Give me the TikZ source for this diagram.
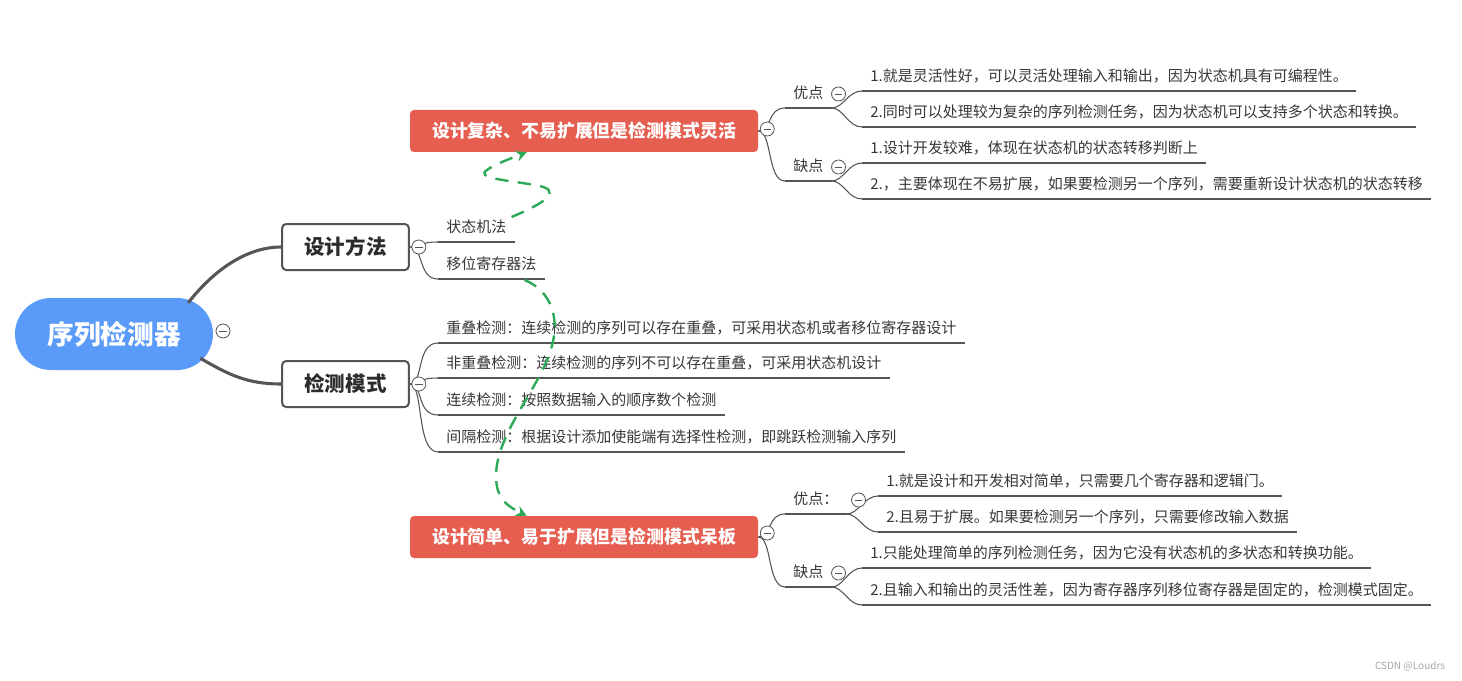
\documentclass[tikz,border=0pt]{standalone}
\usepackage{fontspec}
\setmainfont{Noto Sans CJK SC}
\usetikzlibrary{arrows.meta}

\definecolor{rootBlue}{RGB}{90,154,248}
\definecolor{hintRed}{RGB}{229,94,80}
\definecolor{dashGreen}{RGB}{45,170,87}
\definecolor{lineGray}{RGB}{85,85,85}
\definecolor{textGray}{RGB}{55,55,55}

\newcommand{\leafX}{438}
\newcommand{\subX}{785}
\newcommand{\subLeafX}{862}

\begin{document}
\begin{tikzpicture}[x=0.75pt,y=-0.75pt,
    leaf/.style={anchor=south west,inner xsep=6pt,inner ysep=4.8pt,text height=9pt,text depth=2pt,
      font=\fontsize{11.25}{14}\selectfont,text=textGray},
    twig/.style={draw=lineGray,line width=0.8pt},
    trunk/.style={draw=lineGray,line width=2.3pt},
    mainbox/.style={draw=lineGray,line width=1.5pt,fill=white,rounded corners=3pt,minimum width=95pt,
      minimum height=34.5pt,text=textGray!80!black,font=\fontsize{15.4}{18}\selectfont\bfseries},
    redbox/.style={fill=hintRed,rounded corners=3pt,minimum width=261pt,minimum height=31.5pt,
      text=white,font=\fontsize{13.4}{16}\selectfont\bfseries},
    fold/.style={circle,draw=lineGray,fill=white,line width=0.6pt,minimum size=10.5pt,inner sep=0,
      path picture={\draw[line width=0.6pt] ([xshift=-2.8pt]path picture bounding box.center)
        -- ([xshift=2.8pt]path picture bounding box.center);}},
    hint/.style={draw=dashGreen,line width=1.8pt,dash pattern=on 10pt off 7pt,
      -{Stealth[length=8pt,width=8pt]}}]
    \useasboundingbox (0,0) rectangle (1462,681);

    \node[fill=rootBlue,rounded corners=27pt,minimum width=148.5pt,minimum height=54pt,text=white,
      font=\fontsize{20}{24}\selectfont\bfseries] (seq_root) at (114,334) {序列检测器};
    \node[mainbox] (design_box) at (345.5,247) {设计方法};
    \node[mainbox] (mode_box) at (345.5,384) {检测模式};
    \node[redbox] (complex_box) at (584,131) {设计复杂、不易扩展但是检测模式灵活};
    \node[redbox] (simple_box) at (584,537) {设计简单、易于扩展但是检测模式呆板};

    \node[leaf] (fsm_leaf) at (\leafX,242) {状态机法};
    \node[leaf] (shift_leaf) at (\leafX,279) {移位寄存器法};
    \node[leaf] (overlap_leaf) at (\leafX,343) {重叠检测：连续检测的序列可以存在重叠，可采用状态机或者移位寄存器设计};
    \node[leaf] (nonoverlap_leaf) at (\leafX,378) {非重叠检测：连续检测的序列不可以存在重叠，可采用状态机设计};
    \node[leaf] (cont_leaf) at (\leafX,415) {连续检测：按照数据输入的顺序数个检测};
    \node[leaf] (gap_leaf) at (\leafX,452) {间隔检测：根据设计添加使能端有选择性检测，即跳跃检测输入序列};

    \node[leaf] (pro_one) at (\subX,108) {优点};
    \node[leaf] (pro_one_a) at (\subLeafX,91) {1.就是灵活性好，可以灵活处理输入和输出，因为状态机具有可编程性。};
    \node[leaf] (pro_one_b) at (\subLeafX,127) {2.同时可以处理较为复杂的序列检测任务，因为状态机可以支持多个状态和转换。};
    \node[leaf] (con_one) at (\subX,181) {缺点};
    \node[leaf] (con_one_a) at (\subLeafX,163) {1.设计开发较难，体现在状态机的状态转移判断上};
    \node[leaf] (con_one_b) at (\subLeafX,199) {2.，主要体现在不易扩展，如果要检测另一个序列，需要重新设计状态机的状态转移};

    \node[leaf] (pro_two) at (\subX,514) {优点：};
    \node[leaf] (pro_two_a) at (878,496) {1.就是设计和开发相对简单，只需要几个寄存器和逻辑门。};
    \node[leaf] (pro_two_b) at (878,532) {2.且易于扩展。如果要检测另一个序列，只需要修改输入数据};
    \node[leaf] (con_two) at (\subX,587) {缺点};
    \node[leaf] (con_two_a) at (\subLeafX,568) {1.只能处理简单的序列检测任务，因为它没有状态机的多状态和转换功能。};
    \node[leaf] (con_two_b) at (\subLeafX,605) {2.且输入和输出的灵活性差，因为寄存器序列移位寄存器是固定的，检测模式固定。};

    \draw[trunk] ([shift={(-25,5)}]seq_root.north east) .. controls +(25,-32) and +(-35,0) .. (design_box.west);
    \draw[trunk] ([shift={(-13,-12)}]seq_root.south east) .. controls +(28,16) and +(-35,0) .. (mode_box.west);

    \foreach \leafname in {fsm_leaf,shift_leaf}
      \draw[twig] (design_box.east) .. controls +(14,0) and +(-20,0) .. (\leafname.south west);
    \foreach \leafname in {overlap_leaf,nonoverlap_leaf,cont_leaf,gap_leaf}
      \draw[twig] (mode_box.east) .. controls +(14,0) and +(-22,0) .. (\leafname.south west);
    \foreach \leafname in {pro_one,con_one}
      \draw[twig] (complex_box.east) .. controls +(14,0) and +(-18,0) .. (\leafname.south west);
    \foreach \leafname in {pro_two,con_two}
      \draw[twig] (simple_box.east) .. controls +(14,0) and +(-18,0) .. (\leafname.south west);
    \foreach \leafname in {pro_one_a,pro_one_b}
      \draw[twig] (pro_one.south east) .. controls +(12,0) and +(-14,0) .. (\leafname.south west);
    \foreach \leafname in {con_one_a,con_one_b}
      \draw[twig] (con_one.south east) .. controls +(12,0) and +(-14,0) .. (\leafname.south west);
    \foreach \leafname in {pro_two_a,pro_two_b}
      \draw[twig] (pro_two.south east) .. controls +(12,0) and +(-14,0) .. (\leafname.south west);
    \foreach \leafname in {con_two_a,con_two_b}
      \draw[twig] (con_two.south east) .. controls +(12,0) and +(-14,0) .. (\leafname.south west);

    \foreach \leafname in {fsm_leaf,shift_leaf,overlap_leaf,nonoverlap_leaf,cont_leaf,gap_leaf,
        pro_one,pro_one_a,pro_one_b,con_one,con_one_a,con_one_b,
        pro_two,pro_two_a,pro_two_b,con_two,con_two_a,con_two_b}
      \draw[twig] (\leafname.south west) -- (\leafname.south east);

    \node[fold] (root_fold) at (223,331) {};
    \node[fold] (design_fold) at ([shift={(9,0)}]design_box.east) {};
    \node[fold] (mode_fold) at ([shift={(9,0)}]mode_box.east) {};
    \node[fold] (complex_fold) at ([shift={(9,-2)}]complex_box.east) {};
    \node[fold] (simple_fold) at ([shift={(9,-4)}]simple_box.east) {};
    \node[fold] (pro_one_fold) at ([shift={(7,0)}]pro_one.east) {};
    \node[fold] (con_one_fold) at ([shift={(7,0)}]con_one.east) {};
    \node[fold] (pro_two_fold) at ([shift={(12,0)}]pro_two.east) {};
    \node[fold] (con_two_fold) at ([shift={(7,0)}]con_two.east) {};

    \draw[hint] ([shift={(-3,-25)}]fsm_leaf.south east) .. controls (545,203) and (565,190) .. (535,185)
      .. controls (505,180) and (475,178) .. (487,170) .. controls (495,164) and (512,158)
      .. ([shift={(117,0)}]complex_box.south west);
    \draw[hint] ([shift={(-20,1)}]shift_leaf.south east) .. controls (550,290) and (562,318) .. (550,352)
      .. controls (538,390) and (495,435) .. (496,478) .. controls (497,498) and (505,505)
      .. ([shift={(117,0)}]simple_box.north west);

    \node[text=gray!70,font=\fontsize{7.5}{9}\selectfont] (watermark) at (1410,666) {CSDN @Loudrs};
  \end{tikzpicture}
\end{document}
